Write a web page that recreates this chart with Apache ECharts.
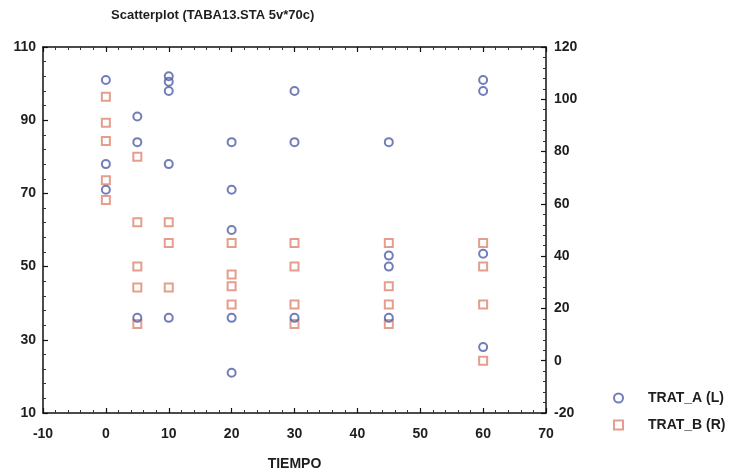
<!DOCTYPE html>
<html>
<head>
<meta charset="utf-8">
<script src="https://cdn.jsdelivr.net/npm/echarts@6/dist/echarts.min.js"></script>
<style>html,body{margin:0;padding:0;background:#fff;overflow:hidden;}#c{width:748px;height:476px;}</style>
</head>
<body>
<div id="c"></div>
<script>
const titleText = 'Scatterplot (TABA13.STA 5v*70c)';
const xName = 'TIEMPO';
const seriesNames = ['TRAT_A (L)', 'TRAT_B (R)'];

const tratA_x = [0,0,0, 5,5,5, 10,10,10,10,10, 20,20,20,20,20, 30,30,30, 45,45,45,45, 60,60,60,60];
const tratA_y = [101,78,71, 91,84,36, 102,100.5,98,78,36, 84,71,60,36,21, 98,84,36, 84,53,50,36, 101,98,53.5,28];

const tratB_x = [0,0,0,0,0, 5,5,5,5,5, 10,10,10, 20,20,20,20, 30,30,30,30, 45,45,45,45, 60,60,60,60];
const tratB_y = [101,91,84,69,61.5, 78,53,36,28,14, 53,45,28, 45,33,28.5,21.5, 45,36,21.5,14, 45,28.5,21.5,14, 45,36,21.5,0];

const xRange = [-10, 70, 10];
const yLeftRange = [10, 110, 20];
const yRightRange = [-20, 120, 20];

const pairs = (xs, ys) => xs.map((x, i) => [x, ys[i]]);

const FONT = "'Liberation Sans Narrow', 'Liberation Sans', Arial, sans-serif";
const TXT = '#1e1e1e';
const BLUE = '#4d5ea8';
const ORANGE = '#de8670';

const lab = { color: TXT, fontFamily: FONT, fontSize: 14, fontWeight: 'bold' };
const axLine = { show: true, onZero: false, lineStyle: { color: '#111', width: 1.5 } };
const tick = { show: true, inside: true, length: 5, lineStyle: { color: '#111', width: 1.2 } };
const minor = { show: true, splitNumber: 5, length: 3, lineStyle: { color: '#333', width: 1 } };

const chart = echarts.init(document.getElementById('c'), null, { renderer: 'canvas' });
chart.setOption({
  animation: false,
  backgroundColor: '#fff',
  title: {
    text: titleText, left: 106, top: 4,
    textStyle: { color: TXT, fontFamily: FONT, fontSize: 13, fontWeight: 'bold' }
  },
  legend: {
    orient: 'vertical', left: 608, top: 386, itemWidth: 9, itemHeight: 9, itemGap: 13,
    data: seriesNames,
    textStyle: { color: TXT, fontFamily: FONT, fontSize: 14, fontWeight: 'bold', padding: [0, 0, 0, 20] }
  },
  grid: { left: 43, right: 202, top: 47, height: 369, containLabel: false },
  xAxis: [
    {
      type: 'value', min: xRange[0], max: xRange[1], interval: xRange[2], position: 'bottom',
      name: xName, nameLocation: 'middle', nameGap: 44,
      nameTextStyle: { color: TXT, fontFamily: FONT, fontSize: 14, fontWeight: 'bold' },
      axisLine: axLine, axisTick: tick, minorTick: minor, splitLine: { show: false },
      axisLabel: Object.assign({ margin: 14 }, lab)
    },
    {
      type: 'value', min: xRange[0], max: xRange[1], interval: xRange[2], position: 'top',
      axisLine: axLine, axisTick: tick, minorTick: minor, splitLine: { show: false },
      axisLabel: { show: false }
    }
  ],
  yAxis: [
    {
      type: 'value', min: yLeftRange[0], max: yLeftRange[1], interval: yLeftRange[2], position: 'left',
      axisLine: axLine, axisTick: tick, minorTick: minor, splitLine: { show: false },
      axisLabel: Object.assign({ margin: 7 }, lab)
    },
    {
      type: 'value', min: yRightRange[0], max: yRightRange[1], interval: yRightRange[2], position: 'right',
      axisLine: axLine, axisTick: tick, minorTick: minor, splitLine: { show: false },
      axisLabel: Object.assign({ margin: 8 }, lab)
    }
  ],
  series: [
    {
      name: seriesNames[0], type: 'scatter', xAxisIndex: 0, yAxisIndex: 0,
      symbol: 'circle', symbolSize: 8,
      itemStyle: { color: 'rgba(255,255,255,0)', borderColor: BLUE, borderWidth: 2 },
      data: pairs(tratA_x, tratA_y), z: 3
    },
    {
      name: seriesNames[1], type: 'scatter', xAxisIndex: 0, yAxisIndex: 1,
      symbol: 'rect', symbolSize: 8,
      itemStyle: { color: 'rgba(255,255,255,0)', borderColor: ORANGE, borderWidth: 2 },
      data: pairs(tratB_x, tratB_y), z: 2
    }
  ]
});
</script>
</body>
</html>
